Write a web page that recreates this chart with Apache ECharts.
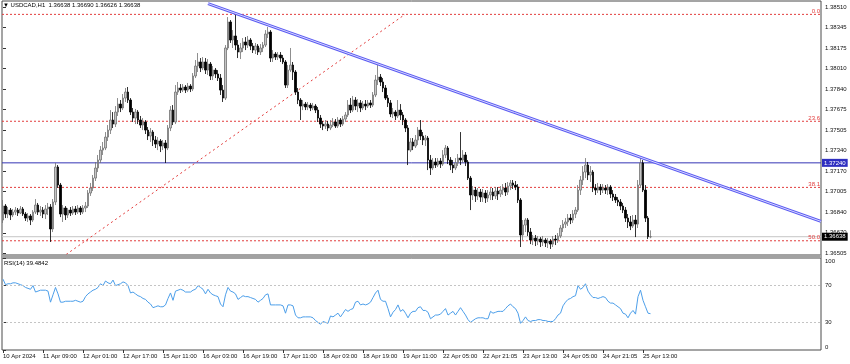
<!DOCTYPE html>
<html><head><meta charset="utf-8">
<script src="https://cdn.jsdelivr.net/npm/echarts/dist/echarts.min.js"></script>
<style>html,body{margin:0;padding:0;background:#fff}#c{width:850px;height:364px}</style>
</head><body><div id="c"></div>
<script>
// ---- DATA ----
const opens = [
1.36774,1.36888,1.36823,1.36855,1.36815,1.36839,1.36855,1.36831,1.36864,1.36823,
1.36790,1.36807,1.36774,1.36839,1.36896,1.36839,1.36855,1.36823,1.36864,1.36880,
1.36701,1.36921,1.37206,1.37059,1.36823,1.36872,1.36815,1.36855,1.36831,1.36864,
1.36839,1.36872,1.36839,1.36872,1.36888,1.36994,1.37035,1.37116,1.37198,1.37263,
1.37344,1.37361,1.37450,1.37507,1.37589,1.37556,1.37654,1.37719,1.37687,1.37768,
1.37817,1.37752,1.37654,1.37605,1.37654,1.37589,1.37548,1.37573,1.37507,1.37459,
1.37491,1.37426,1.37393,1.37418,1.37377,1.37402,1.37361,1.37524,1.37670,1.37573,
1.37817,1.37850,1.37833,1.37858,1.37833,1.37866,1.37842,1.37948,1.38029,1.38062,
1.38013,1.38062,1.37996,1.38045,1.37948,1.37996,1.37964,1.37931,1.37833,1.37768,
1.38176,1.38388,1.38241,1.38274,1.38200,1.38143,1.38176,1.38225,1.38200,1.38241,
1.38192,1.38159,1.38192,1.38143,1.38176,1.38200,1.38290,1.38306,1.38094,1.38127,
1.38102,1.38119,1.38094,1.38062,1.37874,1.37996,1.38037,1.37980,1.37817,1.37752,
1.37703,1.37719,1.37695,1.37711,1.37687,1.37703,1.37670,1.37605,1.37556,1.37540,
1.37556,1.37524,1.37548,1.37573,1.37540,1.37589,1.37556,1.37597,1.37630,1.37711,
1.37670,1.37752,1.37703,1.37728,1.37687,1.37719,1.37703,1.37728,1.37711,1.37793,
1.37915,1.37939,1.37899,1.37850,1.37768,1.37728,1.37638,1.37654,1.37622,1.37670,
1.37630,1.37589,1.37524,1.37344,1.37410,1.37377,1.37426,1.37507,1.37459,1.37426,
1.37442,1.37263,1.37198,1.37247,1.37222,1.37255,1.37230,1.37304,1.37361,1.37263,
1.37222,1.37198,1.37239,1.37279,1.37263,1.37304,1.37247,1.37116,1.36978,1.37018,
1.36970,1.37002,1.36961,1.36994,1.36953,1.36978,1.37002,1.36970,1.37010,1.36986,
1.37018,1.37035,1.37002,1.37051,1.37076,1.37059,1.37043,1.36937,1.36652,1.36733,
1.36774,1.36676,1.36611,1.36627,1.36603,1.36619,1.36595,1.36611,1.36587,1.36603,
1.36578,1.36619,1.36611,1.36644,1.36709,1.36741,1.36758,1.36790,1.36774,1.36823,
1.36855,1.37018,1.37100,1.37165,1.37222,1.37141,1.37165,1.37035,1.37018,1.37043,
1.37018,1.37035,1.37018,1.37043,1.36986,1.36961,1.36937,1.36921,1.36888,1.36855,
1.36790,1.36758,1.36725,1.36774,1.36741,1.37059,1.37239,1.37018,1.36790,1.36638];
const closes = [
1.36888,1.36823,1.36855,1.36815,1.36839,1.36855,1.36831,1.36864,1.36823,1.36790,
1.36807,1.36774,1.36839,1.36896,1.36839,1.36855,1.36823,1.36864,1.36880,1.36701,
1.36921,1.37206,1.37059,1.36823,1.36872,1.36815,1.36855,1.36831,1.36864,1.36839,
1.36872,1.36839,1.36872,1.36888,1.36994,1.37035,1.37116,1.37198,1.37263,1.37344,
1.37361,1.37450,1.37507,1.37589,1.37556,1.37654,1.37719,1.37687,1.37768,1.37817,
1.37752,1.37654,1.37605,1.37654,1.37589,1.37548,1.37573,1.37507,1.37459,1.37491,
1.37426,1.37393,1.37418,1.37377,1.37402,1.37361,1.37524,1.37670,1.37573,1.37817,
1.37850,1.37833,1.37858,1.37833,1.37866,1.37842,1.37948,1.38029,1.38062,1.38013,
1.38062,1.37996,1.38045,1.37948,1.37996,1.37964,1.37931,1.37833,1.37768,1.38176,
1.38388,1.38241,1.38274,1.38200,1.38143,1.38176,1.38225,1.38200,1.38241,1.38192,
1.38159,1.38192,1.38143,1.38176,1.38200,1.38290,1.38306,1.38094,1.38127,1.38102,
1.38119,1.38094,1.38062,1.37874,1.37996,1.38037,1.37980,1.37817,1.37752,1.37703,
1.37719,1.37695,1.37711,1.37687,1.37703,1.37670,1.37605,1.37556,1.37540,1.37556,
1.37524,1.37548,1.37573,1.37540,1.37589,1.37556,1.37597,1.37630,1.37711,1.37670,
1.37752,1.37703,1.37728,1.37687,1.37719,1.37703,1.37728,1.37711,1.37793,1.37915,
1.37939,1.37899,1.37850,1.37768,1.37728,1.37638,1.37654,1.37622,1.37670,1.37630,
1.37589,1.37524,1.37344,1.37410,1.37377,1.37426,1.37507,1.37459,1.37426,1.37442,
1.37263,1.37198,1.37247,1.37222,1.37255,1.37230,1.37304,1.37361,1.37263,1.37222,
1.37198,1.37239,1.37279,1.37263,1.37304,1.37247,1.37116,1.36978,1.37018,1.36970,
1.37002,1.36961,1.36994,1.36953,1.36978,1.37002,1.36970,1.37010,1.36986,1.37018,
1.37035,1.37002,1.37051,1.37076,1.37059,1.37043,1.36937,1.36652,1.36733,1.36774,
1.36676,1.36611,1.36627,1.36603,1.36619,1.36595,1.36611,1.36587,1.36603,1.36578,
1.36619,1.36611,1.36644,1.36709,1.36741,1.36758,1.36790,1.36774,1.36823,1.36855,
1.37018,1.37100,1.37165,1.37222,1.37141,1.37165,1.37035,1.37018,1.37043,1.37018,
1.37035,1.37018,1.37043,1.36986,1.36961,1.36937,1.36921,1.36888,1.36855,1.36790,
1.36758,1.36725,1.36774,1.36741,1.37059,1.37239,1.37018,1.36790,1.36638,1.36638];
const lows = [
1.36750,1.36790,1.36790,1.36774,1.36798,1.36815,1.36807,1.36823,1.36807,1.36766,
1.36758,1.36733,1.36758,1.36823,1.36815,1.36807,1.36790,1.36782,1.36815,1.36595,
1.36676,1.36896,1.37035,1.36798,1.36758,1.36774,1.36790,1.36807,1.36815,1.36815,
1.36823,1.36815,1.36823,1.36839,1.36872,1.36970,1.37010,1.37092,1.37165,1.37239,
1.37304,1.37344,1.37418,1.37475,1.37524,1.37532,1.37622,1.37654,1.37670,1.37736,
1.37728,1.37630,1.37573,1.37556,1.37556,1.37524,1.37507,1.37475,1.37426,1.37410,
1.37377,1.37361,1.37344,1.37328,1.37344,1.37239,1.37344,1.37499,1.37548,1.37556,
1.37793,1.37809,1.37817,1.37809,1.37817,1.37817,1.37825,1.37931,1.37980,1.37980,
1.37996,1.37964,1.37956,1.37915,1.37915,1.37931,1.37907,1.37793,1.37736,1.37752,
1.38159,1.38217,1.38176,1.38159,1.38094,1.38086,1.38143,1.38159,1.38176,1.38159,
1.38135,1.38127,1.38119,1.38119,1.38143,1.38184,1.38257,1.38062,1.38062,1.38078,
1.38078,1.38062,1.38045,1.37850,1.37850,1.37980,1.37915,1.37793,1.37719,1.37589,
1.37670,1.37670,1.37670,1.37662,1.37670,1.37646,1.37573,1.37524,1.37507,1.37516,
1.37499,1.37507,1.37532,1.37524,1.37524,1.37532,1.37540,1.37573,1.37613,1.37646,
1.37654,1.37670,1.37654,1.37654,1.37670,1.37670,1.37687,1.37687,1.37695,1.37776,
1.37874,1.37866,1.37817,1.37752,1.37695,1.37613,1.37605,1.37589,1.37605,1.37589,
1.37548,1.37491,1.37222,1.37328,1.37344,1.37361,1.37385,1.37426,1.37385,1.37377,
1.37181,1.37141,1.37181,1.37198,1.37206,1.37198,1.37214,1.37279,1.37230,1.37181,
1.37157,1.37181,1.37214,1.37222,1.37239,1.37214,1.37100,1.36855,1.36937,1.36921,
1.36937,1.36921,1.36921,1.36913,1.36921,1.36937,1.36937,1.36945,1.36937,1.36961,
1.36978,1.36970,1.36978,1.37018,1.37027,1.37018,1.36913,1.36554,1.36611,1.36676,
1.36644,1.36578,1.36570,1.36562,1.36570,1.36554,1.36562,1.36554,1.36546,1.36538,
1.36554,1.36570,1.36587,1.36627,1.36676,1.36709,1.36725,1.36741,1.36750,1.36790,
1.36839,1.36978,1.37059,1.37116,1.37100,1.37084,1.37002,1.36978,1.36994,1.36978,
1.36994,1.36986,1.36978,1.36953,1.36929,1.36913,1.36888,1.36855,1.36831,1.36758,
1.36709,1.36692,1.36709,1.36635,1.36709,1.37035,1.37002,1.36758,1.36619,1.36626];
const highs = [
1.36937,1.36904,1.36880,1.36872,1.36864,1.36880,1.36872,1.36888,1.36880,1.36839,
1.36831,1.36823,1.36855,1.36945,1.36913,1.36888,1.36880,1.36896,1.36913,1.36904,
1.36945,1.37239,1.37222,1.37076,1.36896,1.36888,1.36872,1.36880,1.36888,1.36888,
1.36896,1.36888,1.36896,1.36921,1.37018,1.37076,1.37141,1.37247,1.37304,1.37377,
1.37410,1.37491,1.37548,1.37670,1.37654,1.37703,1.37768,1.37752,1.37801,1.37850,
1.37858,1.37768,1.37687,1.37679,1.37670,1.37622,1.37605,1.37589,1.37532,1.37524,
1.37507,1.37459,1.37450,1.37434,1.37426,1.37426,1.37548,1.37703,1.37711,1.37874,
1.37899,1.37882,1.37882,1.37874,1.37891,1.37882,1.37972,1.38078,1.38135,1.38094,
1.38102,1.38094,1.38086,1.38062,1.38029,1.38013,1.37996,1.37964,1.37874,1.38200,
1.38428,1.38404,1.38322,1.38461,1.38241,1.38217,1.38257,1.38265,1.38274,1.38257,
1.38217,1.38217,1.38208,1.38208,1.38225,1.38322,1.38347,1.38322,1.38159,1.38143,
1.38143,1.38143,1.38119,1.38078,1.38037,1.38176,1.38062,1.37996,1.37850,1.37768,
1.37752,1.37736,1.37736,1.37728,1.37728,1.37719,1.37695,1.37630,1.37581,1.37589,
1.37581,1.37589,1.37605,1.37597,1.37613,1.37605,1.37622,1.37654,1.37752,1.37768,
1.37785,1.37776,1.37760,1.37752,1.37744,1.37752,1.37752,1.37752,1.37817,1.37956,
1.38037,1.37964,1.37931,1.37874,1.37793,1.37752,1.37687,1.37670,1.37752,1.37719,
1.37654,1.37605,1.37548,1.37442,1.37442,1.37467,1.37532,1.37589,1.37491,1.37467,
1.37459,1.37304,1.37279,1.37279,1.37279,1.37279,1.37344,1.37385,1.37377,1.37287,
1.37263,1.37279,1.37312,1.37491,1.37344,1.37328,1.37263,1.37133,1.37051,1.37043,
1.37035,1.37027,1.37027,1.37018,1.37018,1.37035,1.37035,1.37043,1.37043,1.37051,
1.37067,1.37076,1.37084,1.37100,1.37100,1.37092,1.37067,1.36953,1.36774,1.36790,
1.36790,1.36709,1.36652,1.36652,1.36644,1.36635,1.36644,1.36627,1.36627,1.36619,
1.36644,1.36652,1.36668,1.36733,1.36774,1.36790,1.36823,1.36823,1.36855,1.36880,
1.37059,1.37133,1.37214,1.37279,1.37247,1.37214,1.37181,1.37067,1.37076,1.37067,
1.37067,1.37059,1.37067,1.37059,1.37018,1.36986,1.36961,1.36945,1.36913,1.36880,
1.36823,1.36807,1.36815,1.36815,1.37100,1.37287,1.37263,1.37059,1.36807,1.36690];
const rsi = [
77,71,72,72,73,73,72,71,70,68,
67,66,70,63,64,65,65,65,64,52,
60,68,61,52,52,53,53,53,53,54,
53,52,53,58,61,63,65,66,68,72,
70,75,73,72,76,70,71,72,74,73,
70,62,63,61,59,58,56,55,52,50,
46,47,48,47,47,49,56,62,54,64,
65,66,65,63,63,63,65,66,70,68,
66,61,66,62,60,59,58,50,47,60,
68,64,63,61,55,57,59,58,58,57,
56,55,52,54,56,60,61,49,49,49,
49,49,48,40,49,49,48,38,35,35,
36,36,36,36,35,32,30,28,31,30,
29,37,36,38,40,36,40,44,42,44,
45,52,53,49,50,49,50,52,57,62,
65,55,53,53,45,36,41,44,49,42,
44,40,35,40,42,42,46,47,43,43,
41,34,36,38,38,39,42,45,38,40,
42,38,42,46,42,38,33,30,32,34,
35,35,35,34,34,42,40,41,42,42,
42,45,48,50,47,45,40,29,32,36,
32,31,32,32,33,33,32,32,31,31,
31,34,38,40,48,52,55,56,58,59,
70,66,68,72,64,60,57,57,56,57,
58,57,53,51,51,49,47,45,40,39,
35,40,43,39,58,65,54,47,40,39.4842];
const timeTickBars = [0,16,32,48,64,80,96,112,128,144,160,176,192,208,224,240,256];
const timeTickLabels = ['10 Apr 2024','11 Apr 09:00','12 Apr 01:00','12 Apr 17:00','15 Apr 11:00','16 Apr 03:00','16 Apr 19:00','17 Apr 11:00','18 Apr 03:00','18 Apr 19:00','19 Apr 11:00','22 Apr 05:00','22 Apr 21:05','23 Apr 13:00','24 Apr 05:00','24 Apr 21:05','25 Apr 13:00'];
const priceTicks = [1.38510,1.38345,1.38175,1.38010,1.37840,1.37675,1.37505,1.37340,1.37170,1.37005,1.36840,1.36670,1.36505];
const rsiTicks = [0,30,70,100];
const fibPrices = [1.38450,1.37579,1.37040,1.36605];
const fibLabels = ['0.0','23.6','38.1','50.0'];
const fibDiagBars = [22,160.8];
const fibDiagPrices = [1.36446,1.38450];
const trendBars = [82,327.2];
const trendPrices = [1.38538,1.36763];
const hLinePrice = 1.37240;
const bidPrice = 1.36638;
const rsiLevels = [70,30];
const titleText = '\u25BC USDCAD,H1  1.36638 1.36690 1.36626 1.36638';
const rsiTitle = 'RSI(14) 39.4842';

// ---- CHART ----
const FONT = '"Liberation Sans", Arial, sans-serif';
const chart = echarts.init(document.getElementById('c'), null, {renderer:'canvas'});
const candle = opens.map((o,i)=>[i,o,closes[i],lows[i],highs[i]]);
const rsiData = rsi.map((v,i)=>[i,v]);
const xMin = -0.4, xMax = 327.2;
const fs = 6;
function hLine(price, lineStyle, endLabel, z){
  return {type:'line',xAxisIndex:0,yAxisIndex:0,data:[[xMin,price],[xMax,price]],symbol:'none',
    silent:true,clip:false,z:z||2,lineStyle:lineStyle,endLabel:endLabel,labelLayout:{hideOverlap:false}};
}
const fibSeries = fibPrices.map((p,k)=>hLine(p,{color:'#e23c3c',type:[2,2],width:1},
  {show:true,formatter:fibLabels[k],color:'#e23c3c',fontSize:fs,fontFamily:FONT,distance:0,
   align:'right',verticalAlign:'bottom',offset:[-1,0]}));
const option = {
  animation:false,
  backgroundColor:'#ffffff',
  textStyle:{fontFamily:FONT},
  title:[
    {text:titleText,left:3,top:2,padding:0,textStyle:{fontSize:fs,fontWeight:'normal',color:'#000',fontFamily:FONT}},
    {text:rsiTitle,left:4,top:260,padding:0,textStyle:{fontSize:fs,fontWeight:'normal',color:'#000',fontFamily:FONT}}
  ],
  grid:[
    {left:2,right:29,top:1,height:254,show:true,borderColor:'#4a4a4a',borderWidth:1,backgroundColor:'#fff'},
    {left:2,right:29,top:258,height:92,show:true,borderColor:'#4a4a4a',borderWidth:1,backgroundColor:'#fff'}
  ],
  graphic:[
    {type:'rect',shape:{x:1,y:254.5,width:821,height:3.5},style:{fill:'#a2a2a2'},z:100}
  ],
  xAxis:[
    {type:'value',gridIndex:0,min:xMin,max:xMax,show:false},
    {type:'value',gridIndex:1,min:xMin,max:xMax,
     axisLine:{show:false},splitLine:{show:false},
     axisTick:{show:true,customValues:timeTickBars,length:3,lineStyle:{color:'#333'}},
     axisLabel:{customValues:timeTickBars,formatter:v=>timeTickLabels[timeTickBars.indexOf(v)],
       align:'left',fontSize:fs,color:'#111',margin:3,fontFamily:FONT}}
  ],
  yAxis:[
    {type:'value',gridIndex:0,position:'right',min:1.36489,max:1.38559,
     splitLine:{show:false},axisLine:{show:false},
     axisTick:{show:true,customValues:priceTicks,length:3,lineStyle:{color:'#333'}},
     axisLabel:{customValues:priceTicks,formatter:v=>v.toFixed(5),fontSize:fs,color:'#111',margin:4,fontFamily:FONT}},
    {type:'value',gridIndex:1,position:'right',min:0,max:100,
     splitLine:{show:false},axisLine:{show:false},
     axisTick:{show:true,customValues:rsiTicks,length:3,lineStyle:{color:'#333'}},
     axisLabel:{customValues:rsiTicks,fontSize:fs,color:'#111',margin:4,fontFamily:FONT,
       formatter:v=> v===100?'{t|100}':(v===0?'{b|0}':String(v)),
       rich:{t:{fontSize:fs,color:'#111',padding:[6,0,0,0]},b:{fontSize:fs,color:'#111',padding:[0,0,6,0]}}}}
  ],
  series: fibSeries.concat([
    hLine(hLinePrice,{color:'#3434b4',type:'solid',width:1},
      {show:true,formatter:hLinePrice.toFixed(5),color:'#fff',backgroundColor:'#2f2fc0',
       padding:[1,2,1,2],fontSize:fs,fontFamily:FONT,distance:1,align:'left',verticalAlign:'middle'},2),
    hLine(bidPrice,{color:'#c6c6c6',type:'solid',width:1},
      {show:true,formatter:bidPrice.toFixed(5),color:'#fff',backgroundColor:'#000',
       padding:[1,2,1,2],fontSize:fs,fontFamily:FONT,distance:1,align:'left',verticalAlign:'middle'},2),
    {type:'line',xAxisIndex:0,yAxisIndex:0,data:fibDiagBars.map((b,i)=>[b,fibDiagPrices[i]]),
     symbol:'none',lineStyle:{color:'#e23c3c',type:[2,3],width:1},clip:true,silent:true,z:2},
    {type:'candlestick',xAxisIndex:0,yAxisIndex:0,data:candle,encode:{x:0,y:[1,2,3,4]},
     barWidth:1.6,z:3,
     itemStyle:{color:'#c4c4c4',color0:'#000000',borderColor:'#727272',borderColor0:'#000000',borderWidth:0.8}},
    {type:'line',xAxisIndex:0,yAxisIndex:0,data:trendBars.map((b,i)=>[b,trendPrices[i]]),
     symbol:'none',lineStyle:{color:'#5a5af2',width:3},clip:true,silent:true,z:5},
    {type:'line',xAxisIndex:0,yAxisIndex:0,data:trendBars.map((b,i)=>[b,trendPrices[i]]),
     symbol:'none',lineStyle:{color:'#d8d8ff',width:1},clip:true,silent:true,z:6},
    {type:'line',xAxisIndex:1,yAxisIndex:1,data:rsiData,symbol:'none',
     lineStyle:{color:'#4d9fea',width:1},silent:true,
     markLine:{silent:true,symbol:['none','none'],label:{show:false},
       data:rsiLevels.map(v=>({yAxis:v,lineStyle:{color:'#c4c4c4',type:[2,2],width:1}}))}}
  ])
};
chart.setOption(option);
</script></body></html>
